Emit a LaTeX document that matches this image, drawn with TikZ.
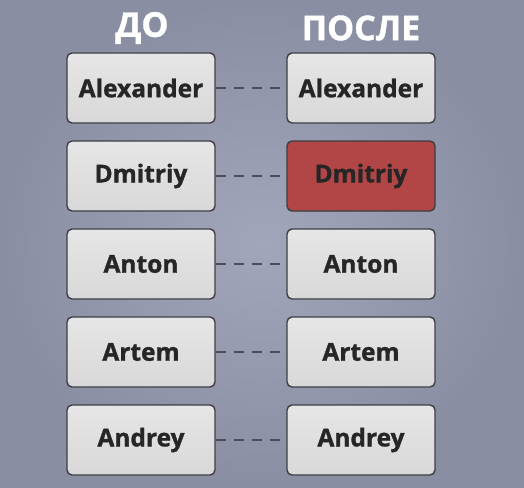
\documentclass[tikz,border=0pt]{standalone}
\usepackage{fontspec}
\setmainfont{Open Sans}[BoldFont={* Bold}, BoldFeatures={FakeBold=1.2}]
\definecolor{bgin}{HTML}{A2A6BA}
\definecolor{bgout}{HTML}{8A8EA3}
\definecolor{boxtop}{HTML}{E6E6E6}
\definecolor{boxbot}{HTML}{D8D8D8}
\definecolor{boxline}{HTML}{3E3E42}
\definecolor{redfill}{HTML}{B24647}
\definecolor{txt}{HTML}{262626}
\definecolor{dashc}{HTML}{4A4E5C}
\tikzset{
  x=1pt, y=1pt,
  namebox/.style={draw=boxline, line width=1.4pt, rounded corners=5pt,
    top color=boxtop, bottom color=boxbot,
    minimum width=148pt, minimum height=70pt, inner sep=0pt,
    font=\bfseries\fontsize{24.5}{26}\selectfont, text=txt},
  redbox/.style={namebox, top color=redfill, bottom color=redfill, fill=redfill},
  header/.style={font=\bfseries\fontsize{34}{38}\selectfont, text=white},
  link/.style={draw=dashc, line width=1.5pt, dash pattern=on 10pt off 8pt}
}
\begin{document}
\begin{tikzpicture}
\shade[inner color=bgin, outer color=bgout] (0,0) rectangle (524,-487);
\useasboundingbox (0,0) rectangle (524,-487);
\node[header] (h1) at (142,-28) {ДО};
\node[header] (h2) at (361,-28) {ПОСЛЕ};
\foreach \n/\name/\y/\st in {1/Alexander/88/namebox, 2/Dmitriy/176/redbox, 3/Anton/264/namebox, 4/Artem/352/namebox, 5/Andrey/440/namebox} {
  \node[namebox] (l\n) at (141,-\y) {\name};
  \node[\st] (r\n) at (361,-\y) {\name};
  \draw[link] (l\n.east) -- (r\n.west);
}
\end{tikzpicture}
\end{document}
